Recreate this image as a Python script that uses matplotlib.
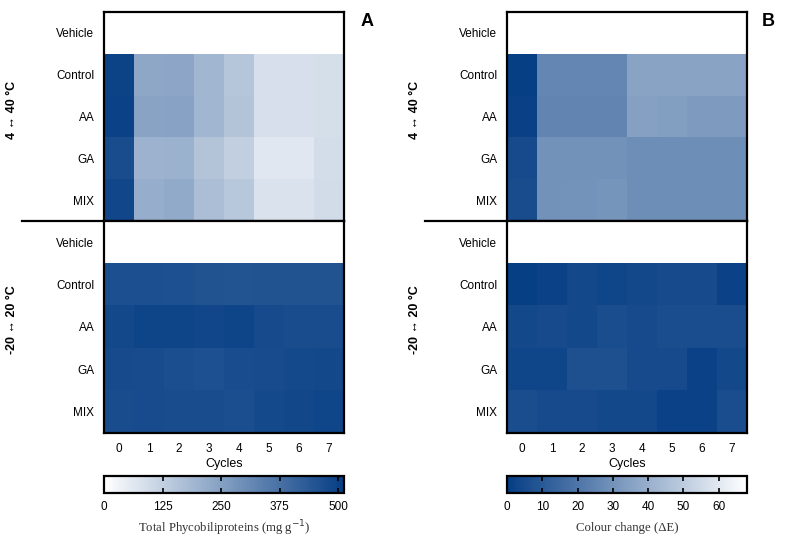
import numpy as np
import matplotlib
matplotlib.use("Agg")
import matplotlib.pyplot as plt
from matplotlib.colors import LinearSegmentedColormap
from matplotlib.lines import Line2D

plt.rcParams['font.family'] = ['Liberation Sans', 'DejaVu Sans']

treatments = ["Vehicle", "Control", "AA", "GA", "MIX"]
cycles = [0, 1, 2, 3, 4, 5, 6, 7]
regimes = ["4 \u2194 40 \u00b0C", "-20 \u2194 20 \u00b0C"]

# Panel A: Total phycobiliproteins (mg g-1); Vehicle = no data
phyco_warm_vehicle = [None] * 8
phyco_warm_control = [495, 230, 232, 190, 150, 82, 82, 84]
phyco_warm_aa = [497, 240, 245, 190, 155, 82, 82, 84]
phyco_warm_ga = [470, 200, 202, 155, 125, 62, 62, 88]
phyco_warm_mix = [485, 215, 222, 170, 145, 75, 75, 90]

phyco_cold_vehicle = [None] * 8
phyco_cold_control = [462, 462, 460, 452, 448, 452, 452, 452]
phyco_cold_aa = [480, 490, 490, 485, 490, 475, 470, 470]
phyco_cold_ga = [475, 472, 465, 460, 468, 472, 478, 480]
phyco_cold_mix = [470, 472, 470, 470, 465, 478, 482, 488]

# Panel B: Colour change (Delta E)
de_warm_vehicle = [None] * 8
de_warm_control = [1, 26, 26, 26, 36, 36, 36, 36]
de_warm_aa = [1.5, 25, 25, 25, 35, 34, 33, 33]
de_warm_ga = [5, 30, 30, 30, 28.5, 28.5, 28.5, 28.5]
de_warm_mix = [5.5, 30, 30.5, 31, 28.5, 28.5, 28.5, 28.5]

de_cold_vehicle = [None] * 8
de_cold_control = [1, 2, 4, 3, 4, 5, 5, 2]
de_cold_aa = [4, 5, 4, 6, 5, 6, 6, 6]
de_cold_ga = [3, 3, 7, 7, 5, 5, 2, 4]
de_cold_mix = [6, 5, 5, 4, 4, 2, 2, 6]

phyco_ticks = [0, 125, 250, 375, 500]
phyco_max = 512
de_ticks = [0, 10, 20, 30, 40, 50, 60]
de_max = 68


def to_arr(rows):
    return np.array([[np.nan if v is None else v for v in r] for r in rows], dtype=float)


phyco_warm = to_arr([phyco_warm_vehicle, phyco_warm_control, phyco_warm_aa, phyco_warm_ga, phyco_warm_mix])
phyco_cold = to_arr([phyco_cold_vehicle, phyco_cold_control, phyco_cold_aa, phyco_cold_ga, phyco_cold_mix])
de_warm = to_arr([de_warm_vehicle, de_warm_control, de_warm_aa, de_warm_ga, de_warm_mix])
de_cold = to_arr([de_cold_vehicle, de_cold_control, de_cold_aa, de_cold_ga, de_cold_mix])

dark = "#053d84"
cmap_a = LinearSegmentedColormap.from_list("wb", ["#ffffff", dark])
cmap_a.set_bad("white")
cmap_b = LinearSegmentedColormap.from_list("bw", [dark, "#ffffff"])
cmap_b.set_bad("white")

W, H = 785, 538
fig = plt.figure(figsize=(7.85, 5.38), dpi=100)


def fx(px):
    return px / W


def fy(px):
    return 1 - px / H


panels = [
    dict(left=104, data=(phyco_warm, phyco_cold), cmap=cmap_a, vmax=phyco_max,
         ticks=phyco_ticks, label="Total Phycobiliproteins (mg g$^{-1}$)", letter="A",
         letter_x=367, regime_x=12),
    dict(left=507, data=(de_warm, de_cold), cmap=cmap_b, vmax=de_max,
         ticks=de_ticks, label="Colour change (\u0394E)", letter="B",
         letter_x=768, regime_x=415),
]

ax_w = 240
top0, mid, bot = 12, 221, 433

for p in panels:
    L = p["left"]
    boxes = [(top0, mid), (mid, bot)]
    im = None
    for k, (t, b) in enumerate(boxes):
        ax = fig.add_axes([fx(L), fy(b), ax_w / W, (b - t) / H])
        im = ax.imshow(p["data"][k], cmap=p["cmap"], vmin=0, vmax=p["vmax"],
                       aspect="auto", interpolation="nearest")
        ax.set_yticks(range(len(treatments)))
        ax.set_yticklabels(treatments, fontsize=8.5)
        ax.tick_params(axis="both", length=0, pad=7)
        if k == 1:
            ax.set_xticks(range(len(cycles)))
            ax.set_xticklabels([str(c) for c in cycles], fontsize=8.5)
            ax.set_xlabel("Cycles", fontsize=9, labelpad=2)
        else:
            ax.set_xticks([])
        for s in ax.spines.values():
            s.set_linewidth(1.6)
        fig.text(fx(p["regime_x"]), fy((t + b) / 2 - 7), regimes[k], rotation=90,
                 ha="center", va="center", fontsize=9, fontweight="bold",
                 family=["Liberation Sans", "DejaVu Sans"])
    # separator line
    fig.add_artist(Line2D([fx(L - 82), fx(L)], [fy(mid), fy(mid)], color="black",
                          linewidth=1.6, transform=fig.transFigure))
    fig.text(fx(p["letter_x"]), fy(22), p["letter"], fontsize=13, fontweight="bold",
             ha="center", va="center")
    cax = fig.add_axes([fx(L), fy(493), ax_w / W, 17 / H])
    cb = fig.colorbar(im, cax=cax, orientation="horizontal")
    cb.set_ticks(p["ticks"])
    cb.set_ticklabels([str(t) for t in p["ticks"]])
    cax.tick_params(axis="x", direction="in", top=True, bottom=True, length=3.5,
                    width=1.2, labelsize=8.5, pad=6)
    cb.outline.set_linewidth(1.6)
    fig.text(fx(L + ax_w / 2), fy(528), p["label"], ha="center", va="center",
             fontsize=9.2, family=["Liberation Serif", "DejaVu Serif"], color="#333333")

fig.savefig("out.png", dpi=100)
